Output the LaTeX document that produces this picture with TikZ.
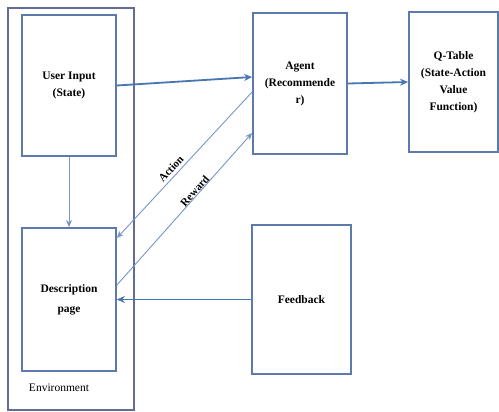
\documentclass[tikz,border=0pt]{standalone}
\usepackage{fontspec}
\setmainfont{Liberation Serif}
\usetikzlibrary{arrows.meta}
\definecolor{boxcol}{RGB}{92,122,172}
\definecolor{envcol}{RGB}{98,108,150}
\definecolor{arrcol}{RGB}{72,118,178}
\definecolor{thincol}{RGB}{120,150,200}
\begin{document}
\begin{tikzpicture}[x=1pt,y=-1pt,
  box/.style={draw=boxcol, line width=1.8pt, fill=white, inner sep=2pt, align=center,
    font=\fontsize{11.5}{17}\selectfont\bfseries},
  thick arrow/.style={draw=arrcol, line width=1.8pt, -{Stealth[length=8pt,width=7pt]}},
  thin arrow/.style={draw=thincol, line width=0.9pt, -{Stealth[length=7pt,width=6pt]}},
  lab/.style={font=\fontsize{11}{12}\selectfont\bfseries, sloped, inner sep=1pt}
]
\useasboundingbox[fill=white] (0,0) rectangle (499,412);
% Environment
\node[draw=envcol, line width=1.8pt, minimum width=126pt, minimum height=402pt, inner sep=0pt] (env) at (71,209) {};
\node[font=\fontsize{11.5}{14}\selectfont] (envlab) at (59,388) {Environment};
% boxes
\node[box, minimum width=94pt, minimum height=141pt] (user) at (69,85.5) {User Input\\(State)};
\node[box, minimum width=94pt, minimum height=143pt, font=\fontsize{11.5}{20}\selectfont\bfseries] (desc) at (69,299.5) {Description\\page};
\node[box, minimum width=94pt, minimum height=141pt] (agent) at (300,83.5) {Agent\\(Recommende\\r)};
\node[box, minimum width=89pt, minimum height=140pt] (qtab) at (453.5,82) {Q-Table\\(State-Action\\Value\\Function)};
\node[box, minimum width=99pt, minimum height=149pt] (feed) at (301.5,299.5) {Feedback};
% connectors
\draw[thick arrow] (user.east) -- ([yshift=6.5pt]agent.west);
\draw[thick arrow] (agent.east) -- (qtab.west);
\draw[thick arrow] (feed.west) -- (desc.east);
\draw[thin arrow] (user.south) -- (desc.north);
\draw[thin arrow] ([yshift=-8.5pt]agent.west) -- node[lab, above=2pt, pos=0.56] {Action} ([yshift=61.5pt]desc.east);
\draw[thin arrow] ([yshift=14.5pt]desc.east) -- node[lab, above=-1pt, pos=0.6] {Reward} ([yshift=-49.5pt]agent.west);
\end{tikzpicture}
\end{document}
